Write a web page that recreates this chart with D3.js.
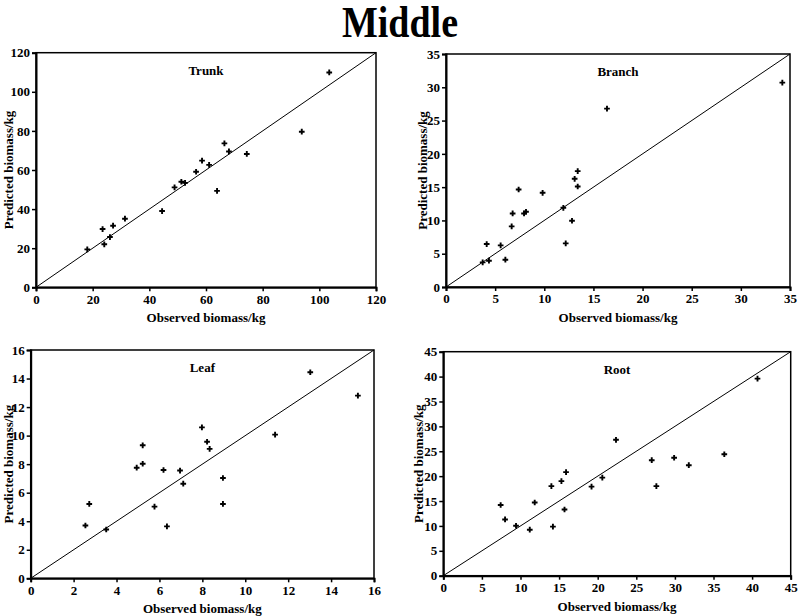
<!DOCTYPE html>
<html><head><meta charset="utf-8">
<script src="https://cdn.jsdelivr.net/npm/d3@7"></script>
<style>
body{margin:0;background:#fff;}
text{font-family:"Liberation Serif","Times New Roman",serif;font-weight:bold;fill:#000;}
</style></head>
<body>
<svg id="chart" width="800" height="616"></svg>
<script>
// ---- data ----
const trunkObserved  = [18.1,23.5,24.1,26.1,27.2,31.4,44.5,48.9,51.3,52.6,56.5,58.6,61.1,63.9,66.5,68.1,74.4,93.8,103.5];
const trunkPredicted = [19.4,29.8,22.0,25.7,31.5,35.1,39.0,51.1,54.0,53.4,59.1,64.8,62.6,49.3,73.6,69.5,68.2,79.6,109.9];

const branchObserved  = [3.73,4.14,4.37,5.56,6.04,6.68,6.78,7.39,7.94,8.14,9.83,11.94,12.18,12.82,13.09,13.40,13.40,16.38,34.22];
const branchPredicted = [3.7,6.45,3.95,6.25,4.1,9.1,11.05,14.65,11.05,11.3,14.15,11.9,6.55,9.95,16.25,17.4,15.1,26.8,30.7];

const leafObserved  = [2.55,2.73,3.52,4.94,5.22,5.22,5.77,6.19,6.35,6.96,7.11,7.98,8.22,8.34,8.96,8.96,11.39,13.03,15.25];
const leafPredicted = [3.70,5.21,3.42,7.75,8.03,9.32,5.02,7.59,3.64,7.55,6.63,10.58,9.57,9.07,7.03,5.21,10.07,14.44,12.8];

const rootObserved  = [7.43,8.0,9.42,11.2,11.84,14.0,14.2,15.3,15.7,15.9,19.2,20.6,22.37,27.0,27.6,29.9,31.8,36.4,40.7];
const rootPredicted = [14.2,11.3,10.04,9.24,14.7,18.0,9.85,19.0,13.3,20.8,17.9,19.7,27.3,23.2,18.0,23.7,22.2,24.4,39.6];

const panelTitles = ["Trunk","Branch","Leaf","Root"];
const axisMax   = [120,35,16,45];
const tickSteps = [20,5,2,5];
const chartTitle = "Middle";
const xAxisTitle = "Observed biomass/kg";
const yAxisTitle = "Predicted biomass/kg";

const seriesX = [trunkObserved, branchObserved, leafObserved, rootObserved];
const seriesY = [trunkPredicted, branchPredicted, leafPredicted, rootPredicted];

// ---- layout ----
const rects = [
  {l:36,   r:376,   t:52.7, b:287.3, yt:8},
  {l:446,  r:790,   t:54,   b:287,   yt:422},
  {l:30.7, r:374,   t:350,  b:578.3, yt:8},
  {l:443.3,r:790.7, t:351.7,b:575.7, yt:418}
];

const svg = d3.select("#chart");

svg.append("text")
  .attr("transform","translate(400,37) scale(1,1.15)")
  .attr("text-anchor","middle")
  .style("font-size","38px")
  .text(chartTitle);

panelTitles.forEach((name,i)=>{
  const R = rects[i];
  const x = d3.scaleLinear().domain([0,axisMax[i]]).range([R.l,R.r]);
  const y = d3.scaleLinear().domain([0,axisMax[i]]).range([R.b,R.t]);
  const ticks = d3.range(0, axisMax[i]+tickSteps[i]/2, tickSteps[i]);
  const g = svg.append("g");

  // frame
  g.append("rect")
    .attr("x",R.l).attr("y",R.t).attr("width",R.r-R.l).attr("height",R.b-R.t)
    .attr("fill","none").attr("stroke","#000").attr("stroke-width",1.5);

  // axes
  const xa = g.append("g").attr("transform",`translate(0,${R.b})`)
    .call(d3.axisBottom(x).tickValues(ticks).tickSize(4).tickPadding(3).tickFormat(d3.format("d")));
  const ya = g.append("g").attr("transform",`translate(${R.l},0)`)
    .call(d3.axisLeft(y).tickValues(ticks).tickSize(4).tickPadding(2).tickFormat(d3.format("d")));
  [xa,ya].forEach(a=>{
    a.select(".domain").attr("stroke","#000").attr("stroke-width",2);
    a.selectAll(".tick line").attr("stroke","#000").attr("stroke-width",1.5);
    a.selectAll(".tick text").style("font-size","13px")
      .style("font-family",'"Liberation Serif",serif').style("font-weight","bold").attr("fill","#000");
  });

  // 1:1 line
  g.append("line")
    .attr("x1",x(0)).attr("y1",y(0)).attr("x2",x(axisMax[i])).attr("y2",y(axisMax[i]))
    .attr("stroke","#000").attr("stroke-width",1);

  // points
  const sym = d3.symbol().type(d3.symbolCross).size(18);
  g.selectAll("path.pt").data(seriesX[i].map((v,k)=>[v,seriesY[i][k]]))
    .enter().append("path").attr("class","pt")
    .attr("d",sym)
    .attr("transform",d=>`translate(${x(d[0])},${y(d[1])})`)
    .attr("fill","#000");

  // panel title
  g.append("text").attr("x",(R.l+R.r)/2).attr("y",R.t+22)
    .attr("text-anchor","middle").style("font-size","13px").text(name);

  // axis titles
  g.append("text").attr("x",(R.l+R.r)/2).attr("y",R.b+35)
    .attr("text-anchor","middle").style("font-size","13px").text(xAxisTitle);
  g.append("text")
    .attr("transform",`translate(${R.yt},${(R.t+R.b)/2}) rotate(-90)`)
    .attr("dy","0.35em")
    .attr("text-anchor","middle").style("font-size","13px").text(yAxisTitle);
});
</script>
</body></html>
